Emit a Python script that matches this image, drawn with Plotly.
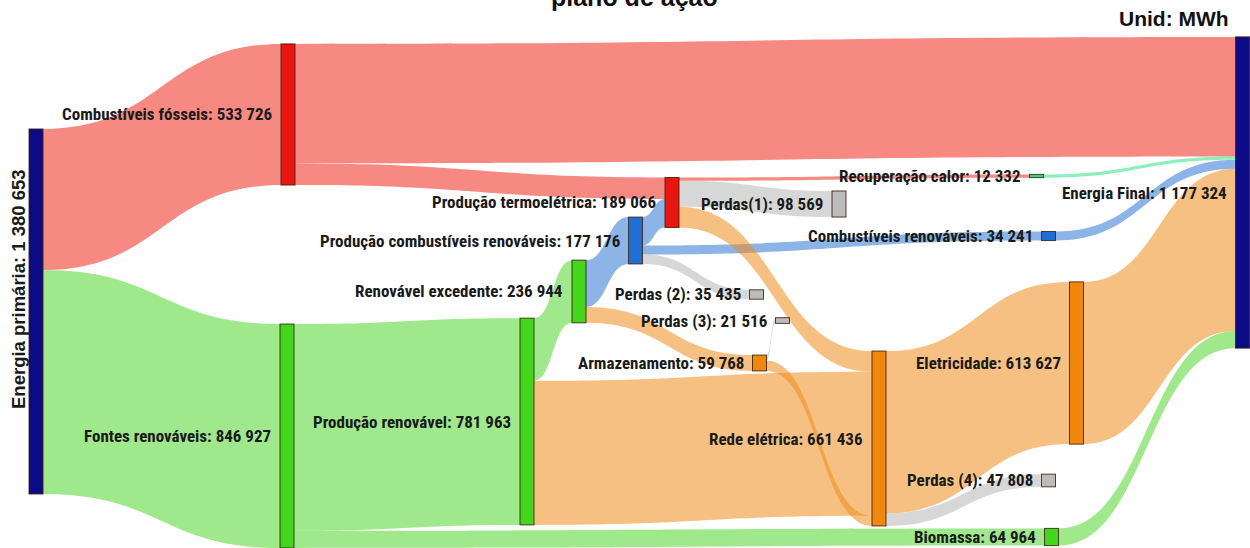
import plotly.graph_objects as go

# ---------------- data ----------------
node_names = [
    "Energia primária", "Combustíveis fósseis", "Fontes renováveis",
    "Produção renovável", "Renovável excedente", "Produção combustíveis renováveis",
    "Produção termoelétrica", "Perdas(1)", "Recuperação calor",
    "Combustíveis renováveis", "Perdas (2)", "Perdas (3)", "Armazenamento",
    "Rede elétrica", "Eletricidade", "Perdas (4)", "Biomassa", "Energia Final",
]
node_values = [
    1380653, 533726, 846927, 781963, 236944, 177176, 189066, 98569, 12332,
    34241, 35435, 21516, 59768, 661436, 613627, 47808, 64964, 1177324,
]
link_source = [0, 0, 1, 1, 2, 2, 3, 3, 4, 4, 5, 5, 5, 6, 6, 6, 12, 12, 13, 13, 8, 9, 14, 16]
link_target = [1, 2, 17, 6, 3, 16, 4, 13, 5, 12, 6, 9, 10, 7, 8, 13, 11, 13, 14, 15, 17, 17, 17, 17]
link_value = [
    533726, 846927, 452160, 81566, 781963, 64964, 236944, 545019, 177176, 59768,
    107500, 34241, 35435, 98569, 12332, 78165, 21516, 38252, 613627, 47808,
    12332, 34241, 613627, 64964,
]
unit_label = "Unid: MWh"
title_text = "plano de ação"

# ---------------- styling / layout ----------------
W, H = 1250, 548
THICK = 14
node_x = [0.0288, 0.2304, 0.2296, 0.4216, 0.4632, 0.5084, 0.5376, 0.6712, 0.8292,
          0.8388, 0.6052, 0.6260, 0.6076, 0.7032, 0.8612, 0.8388, 0.8412, 0.9940]
node_y = [0.5684, 0.2089, 0.7956, 0.7692, 0.5319, 0.4389, 0.3695, 0.3723, 0.3212,
          0.4307, 0.5374, 0.5849, 0.6624, 0.8002, 0.6624, 0.8768, 0.9799, 0.3513]

NAVY, RED, GREEN, BLUE, GRAY, MINT, ORANGE = (
    "#0b0b86", "#e8160e", "#42d61c", "#1f6fd2", "#bcbcbc", "#2fd882", "#ef880c")
node_colors = [NAVY, RED, GREEN, GREEN, GREEN, BLUE, RED, GRAY, MINT,
               BLUE, GRAY, GRAY, ORANGE, ORANGE, ORANGE, GRAY, GREEN, NAVY]

L_RED = "rgba(239,41,28,0.55)"
L_GREEN = "rgba(82,213,46,0.55)"
L_ORANGE = "rgba(239,140,28,0.55)"
L_BLUE = "rgba(46,119,210,0.55)"
L_GRAY = "rgba(182,182,182,0.55)"
L_MINT = "rgba(46,228,137,0.55)"
link_colors = [L_RED, L_GREEN, L_RED, L_RED, L_GREEN, L_GREEN, L_GREEN, L_ORANGE,
               L_BLUE, L_ORANGE, L_BLUE, L_BLUE, L_GRAY, L_GRAY, L_RED, L_ORANGE,
               L_GRAY, L_ORANGE, L_ORANGE, L_GRAY, L_MINT, L_BLUE, L_ORANGE, L_GREEN]


def fmt(v):
    return f"{v:,}".replace(",", " ")


labels = [f"{n}: {fmt(v)}" for n, v in zip(node_names, node_values)]

fig = go.Figure(go.Sankey(
    arrangement="fixed",
    domain=dict(x=[0, 1], y=[0, 1]),
    node=dict(
        label=["" for _ in labels],
        customdata=labels,
        hovertemplate="%{customdata}<extra></extra>",
        x=node_x, y=node_y,
        pad=45.75, thickness=THICK,
        color=node_colors,
        line=dict(color="rgba(60,30,10,0.85)", width=1),
    ),
    link=dict(source=link_source, target=link_target, value=link_value,
              color=link_colors),
))

LABEL_FONT = dict(family="Roboto Condensed, DejaVu Sans Condensed, Liberation Sans",
                  size=17, color="#1a1a1a", weight="bold")
annotations = []
for i, lab in enumerate(labels):
    if i == 0:
        annotations.append(dict(
            text=lab, x=18 / W, y=1 - 289 / H, xref="paper", yref="paper",
            xanchor="center", yanchor="middle", textangle=-90, showarrow=False,
            font=dict(family="Liberation Sans, Arial", size=18.5, color="#1a1a1a",
                      weight="bold")))
        continue
    annotations.append(dict(
        text=lab, x=node_x[i] - (THICK / 2 + 7) / W, y=1 - node_y[i],
        xref="paper", yref="paper", xanchor="right", yanchor="middle",
        showarrow=False, font=LABEL_FONT))

annotations.append(dict(
    text=unit_label, x=1231 / W, y=1 - 18 / H, xref="paper", yref="paper",
    xanchor="right", yanchor="middle", showarrow=False,
    font=dict(family="Liberation Sans, Arial", size=21, color="#111", weight="bold")))
annotations.append(dict(
    text=title_text, x=634 / W, y=0.9765, xref="paper", yref="paper",
    xanchor="center", yanchor="bottom", showarrow=False,
    font=dict(family="Liberation Sans, Arial", size=25, color="#111", weight="bold")))

fig.update_layout(
    width=W, height=H,
    margin=dict(l=0, r=0, t=0, b=0),
    paper_bgcolor="white", plot_bgcolor="white",
    annotations=annotations,
    showlegend=False,
)
fig.write_html("out.html", config={"displayModeBar": False},
               post_script="document.body.style.margin='0';")
